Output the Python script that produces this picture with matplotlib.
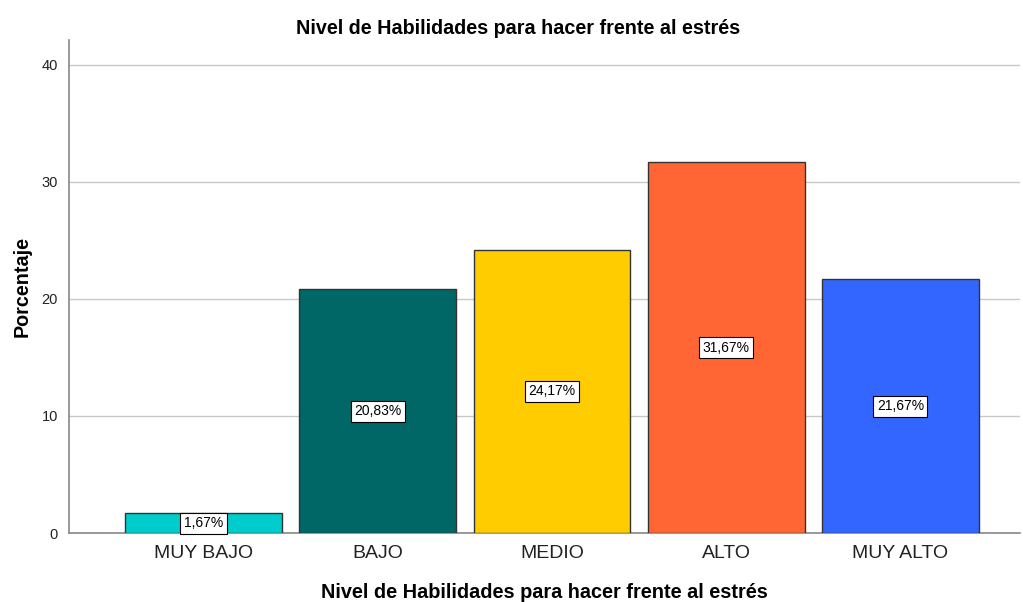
import matplotlib
matplotlib.use("Agg")
import matplotlib.pyplot as plt

categories = ["MUY BAJO", "BAJO", "MEDIO", "ALTO", "MUY ALTO"]
values = [1.67, 20.83, 24.17, 31.67, 21.67]
labels = ["1,67%", "20,83%", "24,17%", "31,67%", "21,67%"]
colors = ["#00CCCC", "#006666", "#FFCC00", "#FF6633", "#3366FF"]
yticks = [0, 10, 20, 30, 40]

plt.rcParams['font.family'] = ['Liberation Sans', 'DejaVu Sans']

fig = plt.figure(figsize=(10.23, 6.02), dpi=100)
ax = fig.add_axes([0.0674, 0.1146, 0.9296, 0.819])

x = list(range(len(categories)))
ax.bar(x, values, width=0.9, color=colors, edgecolor="#333333", linewidth=1.0, zorder=3)
for xi, v, lab in zip(x, values, labels):
    ax.text(xi, v / 2, lab, ha="center", va="center", fontsize=10, zorder=4,
            bbox=dict(boxstyle="square,pad=0.25", facecolor="white", edgecolor="black", linewidth=0.8))

ax.set_xlim(-0.772, 4.686)
ax.set_ylim(0, 42.1)
ax.set_yticks(yticks)
ax.set_xticks(x)
ax.set_xticklabels(categories, fontsize=14, color="#222222")
ax.tick_params(axis="y", labelsize=10.5, length=0, pad=8, colors="#222222")
ax.tick_params(axis="x", length=0, pad=8.5)
ax.yaxis.grid(True, color="#C8C8C8", linewidth=1.0, zorder=0)
ax.set_axisbelow(True)
for s in ["top", "right"]:
    ax.spines[s].set_visible(False)
ax.spines["left"].set_color("#888888")
ax.spines["bottom"].set_color("#888888")
ax.spines["left"].set_linewidth(1.2)
ax.spines["bottom"].set_linewidth(1.2)

ax.set_ylabel("Porcentaje", fontsize=14.2, fontweight="bold", labelpad=7)
ax.set_xlabel("Nivel de Habilidades para hacer frente al estrés", fontsize=14.3, fontweight="bold", labelpad=15)
fig.suptitle("Nivel de Habilidades para hacer frente al estrés", fontsize=14.2, fontweight="bold", x=0.506, y=0.968)

fig.savefig("out.png", dpi=100)
